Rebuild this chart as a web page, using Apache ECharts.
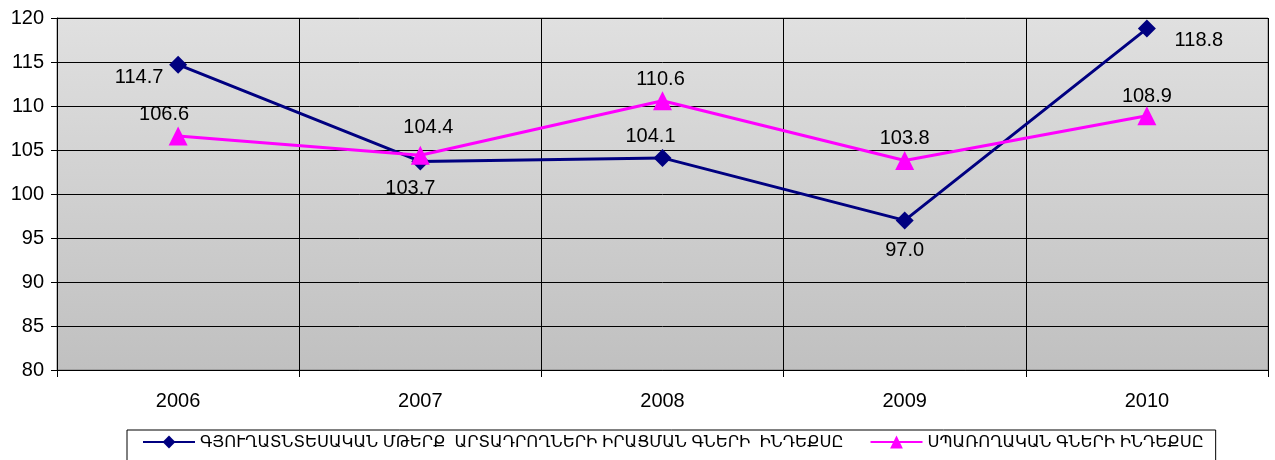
<!DOCTYPE html>
<html><head><meta charset="utf-8">
<script src="https://cdn.jsdelivr.net/npm/echarts@6/dist/echarts.min.js"></script>
<style>html,body{margin:0;padding:0;background:#fff}#c{width:1275px;height:460px}</style>
</head><body><div id="c"></div>
<script>
const categories = ['2006', '2007', '2008', '2009', '2010'];
const producerName = 'ԳՅՈՒՂԱՏՆՏԵՍԱԿԱՆ ՄԹԵՐՔ  ԱՐՏԱԴՐՈՂՆԵՐԻ ԻՐԱՑՄԱՆ ԳՆԵՐԻ  ԻՆԴԵՔՍԸ';
const consumerName = 'ՍՊԱՌՈՂԱԿԱՆ ԳՆԵՐԻ ԻՆԴԵՔՍԸ';
const producerValues = [114.7, 103.7, 104.1, 97.0, 118.8];
const consumerValues = [106.6, 104.4, 110.6, 103.8, 108.9];
const yTicks = [80, 85, 90, 95, 100, 105, 110, 115, 120];

// label placement (style only)
const producerLabelOffsets = [[-39, 13], [-10, 27], [-12, -21], [0, 30], [52, 12]];
const consumerLabelOffsets = [[-14, -21], [8, -28], [-2, -21], [0, -22], [0, -19]];

const font = 'Liberation Sans, Arial, DejaVu Sans, sans-serif';
function build(values, offs) {
  return values.map((v, i) => ({
    value: v,
    label: { position: 'inside', offset: offs[i] }
  }));
}
const chart = echarts.init(document.getElementById('c'));
chart.setOption({
  animation: false,
  grid: {
    left: 57, right: 7, top: 18, bottom: 90,
    show: true,
    borderColor: '#808080', borderWidth: 1,
    backgroundColor: new echarts.graphic.LinearGradient(0, 0, 0, 1, [
      { offset: 0, color: '#e0e0e0' }, { offset: 1, color: '#c0c0c0' }
    ])
  },
  legend: {
    bottom: -14, left: 127, width: 1110,
    padding: [4, 12, 24, 15],
    borderColor: '#000', borderWidth: 1,
    itemWidth: 52, itemHeight: 16, itemGap: 26,
    textStyle: { fontFamily: font, fontSize: 16.4, color: '#000' },
    data: [producerName, consumerName]
  },
  xAxis: {
    type: 'category', data: categories, boundaryGap: true,
    axisLine: { lineStyle: { color: '#000', width: 1 } },
    axisTick: { show: true, length: 7, lineStyle: { color: '#000' } },
    axisLabel: { color: '#000', fontFamily: font, fontSize: 20, margin: 21 },
    splitLine: { show: true, lineStyle: { color: '#000', width: 1 } }
  },
  yAxis: {
    type: 'value', min: yTicks[0], max: yTicks[yTicks.length - 1], interval: yTicks[1] - yTicks[0],
    axisLine: { show: true, lineStyle: { color: '#000' } },
    axisTick: { show: true, length: 6, lineStyle: { color: '#000' } },
    axisLabel: { color: '#000', fontFamily: font, fontSize: 20, margin: 13 },
    splitLine: { show: true, lineStyle: { color: '#000', width: 1 } }
  },
  series: [
    {
      name: producerName, type: 'line',
      data: build(producerValues, producerLabelOffsets),
      symbol: 'diamond', symbolSize: 18,
      lineStyle: { color: '#000080', width: 3 },
      itemStyle: { color: '#000080' },
      label: { show: true, fontFamily: font, fontSize: 20, color: '#000',
        formatter: p => p.value.toFixed(1) },
      z: 2
    },
    {
      name: consumerName, type: 'line',
      data: build(consumerValues, consumerLabelOffsets),
      symbol: 'triangle', symbolSize: 19,
      lineStyle: { color: '#ff00ff', width: 3 },
      itemStyle: { color: '#ff00ff' },
      label: { show: true, fontFamily: font, fontSize: 20, color: '#000',
        formatter: p => p.value.toFixed(1) },
      z: 3
    }
  ]
});
</script></body></html>
